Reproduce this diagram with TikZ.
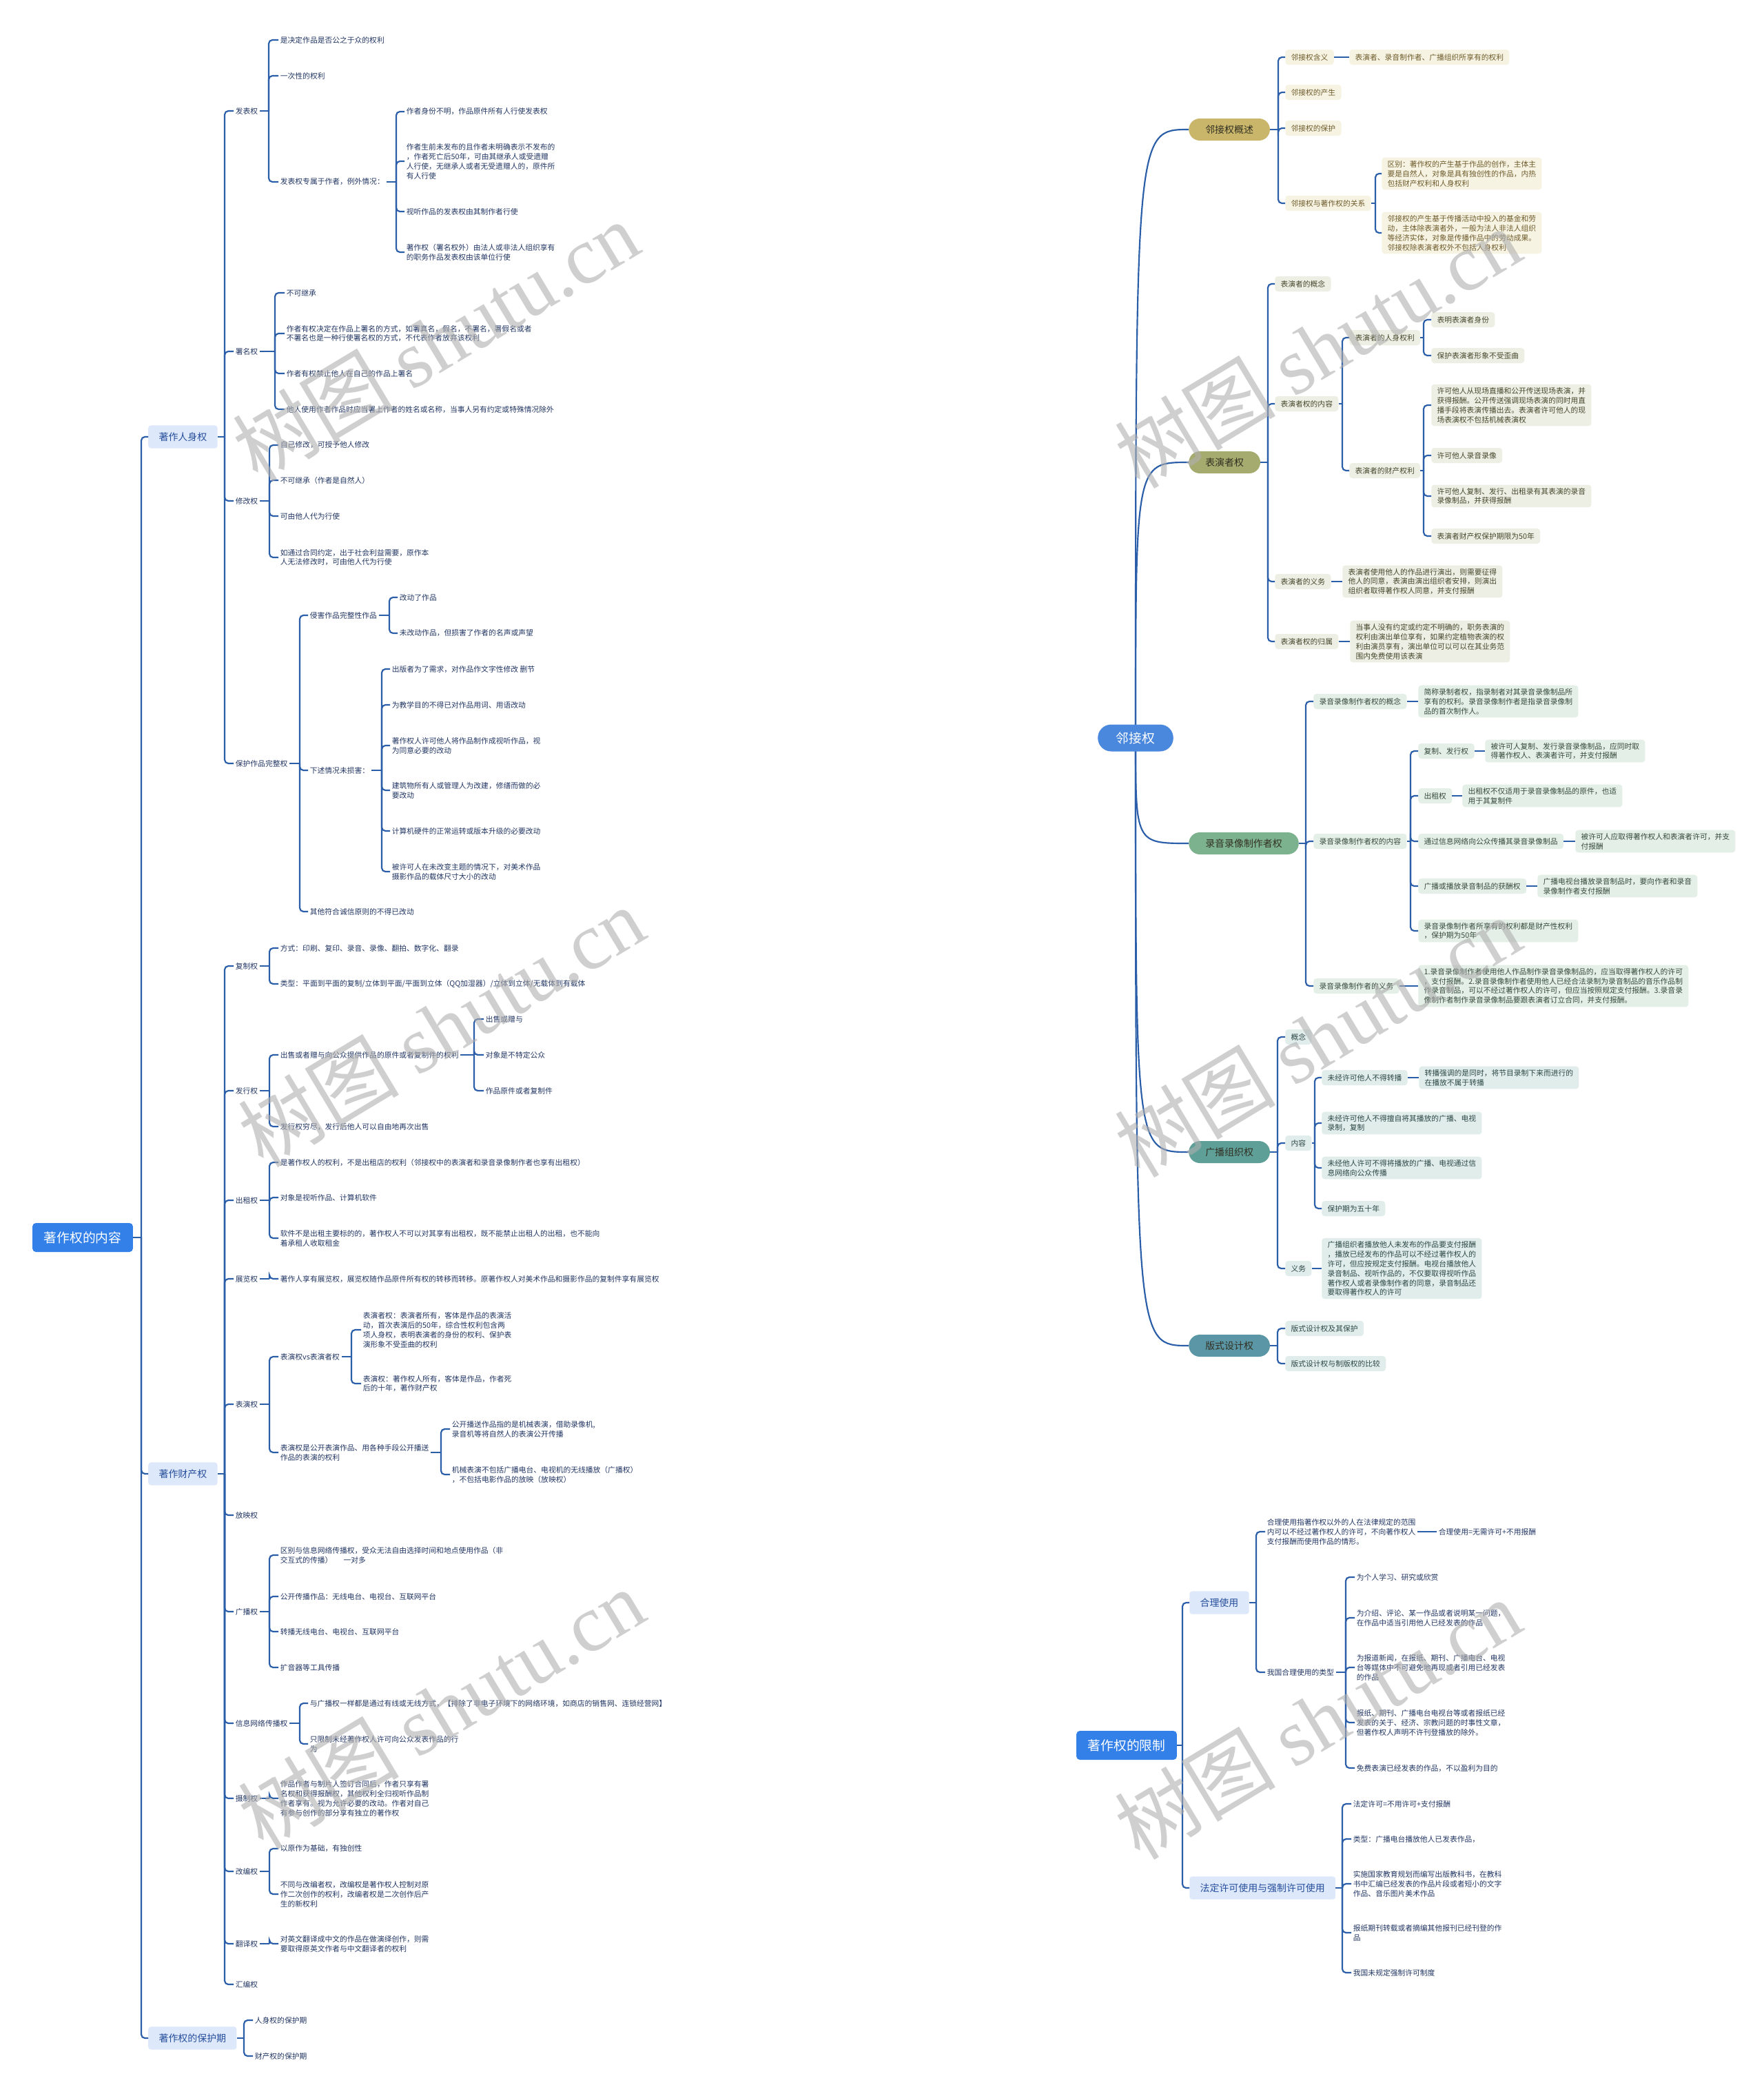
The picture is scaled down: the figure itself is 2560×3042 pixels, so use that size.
\documentclass[tikz,border=0pt]{standalone}
\usepackage{fontspec}
\setmainfont{Noto Sans CJK SC}
\newfontfamily\wmlatin{Liberation Serif}
\pgfdeclarelayer{background}
\pgfsetlayers{background,main}

\definecolor{lineblue}{RGB}{43,94,168}
\definecolor{txtblue}{RGB}{35,55,100}
\definecolor{rootblue}{RGB}{50,128,232}
\definecolor{midfill}{RGB}{222,232,251}
\definecolor{midtext}{RGB}{37,78,155}
\definecolor{jblue}{RGB}{74,136,222}
\definecolor{gold}{RGB}{201,182,106}
\definecolor{goldbg}{RGB}{247,243,226}
\definecolor{goldtxt}{RGB}{110,92,45}
\definecolor{olive}{RGB}{165,171,110}
\definecolor{olivebg}{RGB}{238,239,228}
\definecolor{olivetxt}{RGB}{70,72,45}
\definecolor{sage}{RGB}{125,178,142}
\definecolor{sagebg}{RGB}{228,239,231}
\definecolor{sagetxt}{RGB}{55,75,60}
\definecolor{teal}{RGB}{94,160,152}
\definecolor{tealbg}{RGB}{224,237,235}
\definecolor{tealtxt}{RGB}{45,72,70}
\definecolor{steel}{RGB}{90,150,165}
\definecolor{pilltxt}{RGB}{50,48,35}
\definecolor{wmgray}{RGB}{175,175,175}

% vertical fork from a parent to its children
\newcommand{\forkto}[3]{%
  \coordinate (fkv) at (#2,0);
  \draw[conn] (#1.east) -- (#1.east -| fkv);
  \foreach \kid in {#3}{\draw[conn, rounded corners=1.6mm] (#1.east -| fkv) |- (\kid.west);}
}

\begin{document}
\begin{tikzpicture}[
x=0.3mm, y=-0.3mm,
conn/.style={draw=lineblue, line width=0.65mm},
lf/.style={anchor=west, inner xsep=0.8mm, inner ysep=0.6mm, align=left, text=txtblue, font=\fontsize{9.2}{11.9}\selectfont},
midb/.style={anchor=west, fill=midfill, text=midtext, rounded corners=1.2mm, inner xsep=4.6mm, minimum height=10mm, font=\fontsize{11.9}{14}\selectfont},
rootb/.style={fill=rootblue, text=white, rounded corners=1.5mm, inner xsep=5mm, minimum height=12.6mm, font=\fontsize{16}{19}\selectfont},
jrootb/.style={fill=jblue, text=white, rounded corners=5.8mm, inner xsep=8mm, minimum height=11.7mm, font=\fontsize{16}{19}\selectfont},
pill/.style={anchor=west, rounded corners=4.8mm, inner xsep=7.2mm, minimum height=9.6mm, text=pilltxt, font=\fontsize{11.9}{14}\selectfont},
rb/.style={anchor=west, rounded corners=1.3mm, inner xsep=2.5mm, inner ysep=1.3mm, minimum height=6.6mm, align=left, font=\fontsize{9.2}{11.9}\selectfont},
wmark/.style={rotate=31, text=wmgray, opacity=0.6, font=\fontsize{100}{100}\selectfont}
]
\useasboundingbox (0,0) rectangle (2560,3042);
\begin{pgfonlayer}{background}
\fill[white] (0,0) rectangle (2560,3042);
\end{pgfonlayer}

%% 著作权的内容
\node[rootb] (zzq) at (120,1796) {著作权的内容};
\node[midb] (rsq) at (215,634) {著作人身权};
\node[midb] (ccq) at (215,2139) {著作财产权};
\node[midb] (bhqx) at (215,2958) {著作权的保护期};
\forkto{zzq}{205}{rsq,ccq,bhqx}

\node[lf] (fbq) at (339,161) {发表权};
\node[lf] (smq) at (339,510) {署名权};
\node[lf] (xgq) at (339,727) {修改权};
\node[lf] (wzq) at (339,1108) {保护作品完整权};
\forkto{rsq}{326}{fbq,smq,xgq,wzq}

\node[lf] (fbq1) at (404,58) {是决定作品是否公之于众的权利};
\node[lf] (fbq2) at (404,110) {一次性的权利};
\node[lf] (fbq3) at (404,264) {发表权专属于作者，例外情况：};
\forkto{fbq}{390}{fbq1,fbq2,fbq3}
\node[lf] (fbq31) at (587,162) {作者身份不明，作品原件所有人行使发表权};
\node[lf] (fbq32) at (587,234) {作者生前未发布的且作者未明确表示不发布的\\，作者死亡后50年，可由其继承人或受遗赠\\人行使，无继承人或者无受遗赠人的，原件所\\有人行使};
\node[lf] (fbq33) at (587,307) {视听作品的发表权由其制作者行使};
\node[lf] (fbq34) at (587,366) {著作权（署名权外）由法人或非法人组织享有\\的职务作品发表权由该单位行使};
\forkto{fbq3}{575}{fbq31,fbq32,fbq33,fbq34}

\node[lf] (smq1) at (413,425) {不可继承};
\node[lf] (smq2) at (413,484) {作者有权决定在作品上署名的方式，如署真名，假名，不署名，署假名或者\\不署名也是一种行使署名权的方式，不代表作者放弃该权利};
\node[lf] (smq3) at (413,542) {作者有权禁止他人在自己的作品上署名};
\node[lf] (smq4) at (413,594) {他人使用作者作品时应当署上作者的姓名或名称，当事人另有约定或特殊情况除外};
\forkto{smq}{399}{smq1,smq2,smq3,smq4}

\node[lf] (xgq1) at (404,646) {自己修改，可授予他人修改};
\node[lf] (xgq2) at (404,697) {不可继承（作者是自然人）};
\node[lf] (xgq3) at (404,749) {可由他人代为行使};
\node[lf] (xgq4) at (404,809) {如通过合同约定，出于社会利益需要，原作本\\人无法修改时，可由他人代为行使};
\forkto{xgq}{391}{xgq1,xgq2,xgq3,xgq4}

\node[lf] (wzq1) at (447,893) {侵害作品完整性作品};
\node[lf] (wzq2) at (447,1118) {下述情况未损害：};
\node[lf] (wzq3) at (447,1323) {其他符合诚信原则的不得已改动};
\forkto{wzq}{435}{wzq1,wzq2,wzq3}
\node[lf] (wzq11) at (577,867) {改动了作品};
\node[lf] (wzq12) at (577,919) {未改动作品，但损害了作者的名声或声望};
\forkto{wzq1}{565}{wzq11,wzq12}
\node[lf] (wzq21) at (566,971) {出版者为了需求，对作品作文字性修改 删节};
\node[lf] (wzq22) at (566,1023) {为教学目的不得已对作品用词、用语改动};
\node[lf] (wzq23) at (566,1082) {著作权人许可他人将作品制作成视听作品，视\\为同意必要的改动};
\node[lf] (wzq24) at (566,1147) {建筑物所有人或管理人为改建，修缮而做的必\\要改动};
\node[lf] (wzq25) at (566,1206) {计算机硬件的正常运转或版本升级的必要改动};
\node[lf] (wzq26) at (566,1265) {被许可人在未改变主题的情况下，对美术作品\\摄影作品的载体尺寸大小的改动};
\forkto{wzq2}{554}{wzq21,wzq22,wzq23,wzq24,wzq25,wzq26}

\node[lf] (fzq) at (339,1402) {复制权};
\node[lf] (fxq) at (339,1583) {发行权};
\node[lf] (czq) at (339,1742) {出租权};
\node[lf] (zlq) at (339,1856) {展览权};
\node[lf] (byq) at (339,2038) {表演权};
\node[lf] (fyq) at (339,2199) {放映权};
\node[lf] (gbq) at (339,2339) {广播权};
\node[lf] (xxq) at (339,2501) {信息网络传播权};
\node[lf] (szq) at (339,2610) {摄制权};
\node[lf] (gbjq) at (339,2716) {改编权};
\node[lf] (fanyq) at (339,2821) {翻译权};
\node[lf] (hbq) at (339,2880) {汇编权};
\forkto{ccq}{326}{fzq,fxq,czq,zlq,byq,fyq,gbq,xxq,szq,gbjq,fanyq,hbq}

\node[lf] (fzq1) at (404,1376) {方式：印刷、复印、录音、录像、翻拍、数字化、翻录};
\node[lf] (fzq2) at (404,1428) {类型：平面到平面的复制/立体到平面/平面到立体（QQ加湿器）/立体到立体/无载体到有载体};
\forkto{fzq}{391}{fzq1,fzq2}

\node[lf] (fxq1) at (404,1531) {出售或者赠与向公众提供作品的原件或者复制件的权利};
\node[lf] (fxq2) at (404,1635) {发行权穷尽，发行后他人可以自由地再次出售};
\forkto{fxq}{391}{fxq1,fxq2}
\node[lf] (fxq11) at (702,1479) {出售或赠与};
\node[lf] (fxq12) at (702,1531) {对象是不特定公众};
\node[lf] (fxq13) at (702,1583) {作品原件或者复制件};
\forkto{fxq1}{688}{fxq11,fxq12,fxq13}

\node[lf] (czq1) at (404,1687) {是著作权人的权利，不是出租店的权利（邻接权中的表演者和录音录像制作者也享有出租权）};
\node[lf] (czq2) at (404,1738) {对象是视听作品、计算机软件};
\node[lf] (czq3) at (404,1797) {软件不是出租主要标的的，著作权人不可以对其享有出租权，既不能禁止出租人的出租，也不能向\\着承租人收取租金};
\forkto{czq}{391}{czq1,czq2,czq3}

\node[lf] (zlq1) at (404,1856) {著作人享有展览权，展览权随作品原件所有权的转移而转移。原著作权人对美术作品和摄影作品的复制件享有展览权};
\forkto{zlq}{391}{zlq1}

\node[lf] (byq1) at (404,1969) {表演权vs表演者权};
\node[lf] (byq2) at (404,2108) {表演权是公开表演作品、用各种手段公开播送\\作品的表演的权利};
\forkto{byq}{391}{byq1,byq2}
\node[lf] (byq11) at (524,1930) {表演者权：表演者所有，客体是作品的表演活\\动，首次表演后的50年，综合性权利包含两\\项人身权，表明表演者的身份的权利、保护表\\演形象不受歪曲的权利};
\node[lf] (byq12) at (524,2008) {表演权：著作权人所有，客体是作品，作者死\\后的十年，著作财产权};
\forkto{byq1}{510}{byq11,byq12}
\node[lf] (byq21) at (653,2074) {公开播送作品指的是机械表演，借助录像机,\\录音机等将自然人的表演公开传播};
\node[lf] (byq22) at (653,2140) {机械表演不包括广播电台、电视机的无线播放（广播权）\\，不包括电影作品的放映（放映权）};
\forkto{byq2}{640}{byq21,byq22}

\node[lf] (gbq1) at (404,2257) {区别与信息网络传播权，受众无法自由选择时间和地点使用作品（非\\交互式的传播）\hspace{1.5em}一对多};
\node[lf] (gbq2) at (404,2317) {公开传播作品：无线电台、电视台、互联网平台};
\node[lf] (gbq3) at (404,2368) {转播无线电台、电视台、互联网平台};
\node[lf] (gbq4) at (404,2420) {扩音器等工具传播};
\forkto{gbq}{391}{gbq1,gbq2,gbq3,gbq4}

\node[lf] (xxq1) at (447,2472) {与广播权一样都是通过有线或无线方式，【排除了非电子环境下的网络环境，如商店的销售网、连锁经营网】};
\node[lf] (xxq2) at (447,2531) {只限制未经著作权人许可向公众发表作品的行\\为};
\forkto{xxq}{435}{xxq1,xxq2}

\node[lf] (szq1) at (404,2610) {作品作者与制片人签订合同后，作者只享有署\\名权和获得报酬权，其他权利全归视听作品制\\作者享有。视为允许必要的改动。作者对自己\\有参与创作的部分享有独立的著作权};
\forkto{szq}{391}{szq1}

\node[lf] (gbjq1) at (404,2683) {以原作为基础，有独创性};
\node[lf] (gbjq2) at (404,2749) {不同与改编者权，改编权是著作权人控制对原\\作二次创作的权利，改编者权是二次创作后产\\生的新权利};
\forkto{gbjq}{391}{gbjq1,gbjq2}

\node[lf] (fanyq1) at (404,2821) {对英文翻译成中文的作品在做演绎创作，则需\\要取得原英文作者与中文翻译者的权利};
\forkto{fanyq}{391}{fanyq1}

\node[lf] (bhqx1) at (367,2932) {人身权的保护期};
\node[lf] (bhqx2) at (367,2984) {财产权的保护期};
\forkto{bhqx}{354}{bhqx1,bhqx2}

%% 邻接权
\node[jrootb] (ljq) at (1648,1071) {邻接权};
\node[pill, fill=gold] (gs) at (1725,188) {邻接权概述};
\node[pill, fill=olive] (byz) at (1725,671) {表演者权};
\node[pill, fill=sage] (lyz) at (1725,1224) {录音录像制作者权};
\node[pill, fill=teal] (gbz) at (1725,1672) {广播组织权};
\node[pill, fill=steel] (bsz) at (1725,1953) {版式设计权};
\begin{pgfonlayer}{background}
\foreach \kid in {gs,byz,lyz,gbz,bsz}
  \draw[conn] (ljq.center) .. controls (ljq.center |- \kid.west) .. (\kid.west);
\end{pgfonlayer}

\begin{scope}[every node/.append style={fill=goldbg, text=goldtxt}]
\node[rb] (gs1) at (1865,83) {邻接权含义};
\node[rb] (gs2) at (1865,134) {邻接权的产生};
\node[rb] (gs3) at (1865,186) {邻接权的保护};
\node[rb] (gs4) at (1865,295) {邻接权与著作权的关系};
\node[rb] (gs11) at (1958,83) {表演者、录音制作者、广播组织所享有的权利};
\node[rb] (gs41) at (2005,252) {区别：著作权的产生基于作品的创作，主体主\\要是自然人，对象是具有独创性的作品，内热\\包括财产权利和人身权利};
\node[rb] (gs42) at (2005,338) {邻接权的产生基于传播活动中投入的基金和劳\\动，主体除表演者外，一般为法人非法人组织\\等经济实体，对象是传播作品中的劳动成果。\\邻接权除表演者权外不包括人身权利};
\end{scope}
\forkto{gs}{1855}{gs1,gs2,gs3,gs4}
\draw[conn] (gs1) -- (gs11);
\forkto{gs4}{1996}{gs41,gs42}

\begin{scope}[every node/.append style={fill=olivebg, text=olivetxt}]
\node[rb] (byz1) at (1850,412) {表演者的概念};
\node[rb] (byz2) at (1850,586) {表演者权的内容};
\node[rb] (byz3) at (1850,844) {表演者的义务};
\node[rb] (byz4) at (1850,931) {表演者权的归属};
\node[rb] (byz21) at (1958,490) {表演者的人身权利};
\node[rb] (byz22) at (1958,683) {表演者的财产权利};
\node[rb] (byz211) at (2077,464) {表明表演者身份};
\node[rb] (byz212) at (2077,516) {保护表演者形象不受歪曲};
\node[rb] (byz221) at (2077,588) {许可他人从现场直播和公开传送现场表演，并\\获得报酬。公开传送强调现场表演的同时用直\\播手段将表演传播出去。表演者许可他人的现\\场表演权不包括机械表演权};
\node[rb] (byz222) at (2077,661) {许可他人录音录像};
\node[rb] (byz223) at (2077,720) {许可他人复制、发行、出租录有其表演的录音\\录像制品，并获得报酬};
\node[rb] (byz224) at (2077,778) {表演者财产权保护期限为50年};
\node[rb] (byz31) at (1948,844) {表演者使用他人的作品进行演出，则需要征得\\他人的同意，表演由演出组织者安排，则演出\\组织者取得著作权人同意，并支付报酬};
\node[rb] (byz41) at (1959,931) {当事人没有约定或约定不明确的，职务表演的\\权利由演出单位享有，如果约定植物表演的权\\利由演员享有，演出单位可以可以在其业务范\\围内免费使用该表演};
\end{scope}
\forkto{byz}{1840}{byz1,byz2,byz3,byz4}
\forkto{byz2}{1948}{byz21,byz22}
\forkto{byz21}{2066}{byz211,byz212}
\forkto{byz22}{2066}{byz221,byz222,byz223,byz224}
\draw[conn] (byz3) -- (byz31);
\draw[conn] (byz4) -- (byz41);

\begin{scope}[every node/.append style={fill=sagebg, text=sagetxt}]
\node[rb] (lyz1) at (1906,1018) {录音录像制作者权的概念};
\node[rb] (lyz2) at (1906,1221) {录音录像制作者权的内容};
\node[rb] (lyz3) at (1906,1431) {录音录像制作者的义务};
\node[rb] (lyz11) at (2058,1018) {简称录制者权，指录制者对其录音录像制品所\\享有的权利。录音录像制作者是指录音录像制\\品的首次制作人。};
\node[rb] (lyz21) at (2058,1090) {复制、发行权};
\node[rb] (lyz22) at (2058,1155) {出租权};
\node[rb] (lyz23) at (2058,1221) {通过信息网络向公众传播其录音录像制品};
\node[rb] (lyz24) at (2058,1286) {广播或播放录音制品的获酬权};
\node[rb] (lyz25) at (2058,1351) {录音录像制作者所享有的权利都是财产性权利\\，保护期为50年};
\node[rb] (lyz211) at (2155,1090) {被许可人复制、发行录音录像制品，应同时取\\得著作权人、表演者许可，并支付报酬};
\node[rb] (lyz221) at (2122,1155) {出租权不仅适用于录音录像制品的原件，也适\\用于其复制件};
\node[rb] (lyz231) at (2286,1221) {被许可人应取得著作权人和表演者许可，并支\\付报酬};
\node[rb] (lyz241) at (2231,1286) {广播电视台播放录音制品时，要向作者和录音\\录像制作者支付报酬};
\node[rb] (lyz31) at (2058,1431) {1.录音录像制作者使用他人作品制作录音录像制品的，应当取得著作权人的许可\\，支付报酬。2.录音录像制作者使用他人已经合法录制为录音制品的音乐作品制\\作录音制品，可以不经过著作权人的许可，但应当按照规定支付报酬。3.录音录\\像制作者制作录音录像制品要跟表演者订立合同，并支付报酬。};
\end{scope}
\forkto{lyz}{1895}{lyz1,lyz2,lyz3}
\draw[conn] (lyz1) -- (lyz11);
\forkto{lyz2}{2047}{lyz21,lyz22,lyz23,lyz24,lyz25}
\draw[conn] (lyz21) -- (lyz211);
\draw[conn] (lyz22) -- (lyz221);
\draw[conn] (lyz23) -- (lyz231);
\draw[conn] (lyz24) -- (lyz241);
\draw[conn] (lyz3) -- (lyz31);

\begin{scope}[every node/.append style={fill=tealbg, text=tealtxt}]
\node[rb] (gbz1) at (1865,1505) {概念};
\node[rb] (gbz2) at (1865,1659) {内容};
\node[rb] (gbz3) at (1865,1841) {义务};
\node[rb] (gbz21) at (1918,1564) {未经许可他人不得转播};
\node[rb] (gbz22) at (1918,1630) {未经许可他人不得擅自将其播放的广播、电视\\录制，复制};
\node[rb] (gbz23) at (1918,1695) {未经他人许可不得将播放的广播、电视通过信\\息网络向公众传播};
\node[rb] (gbz24) at (1918,1754) {保护期为五十年};
\node[rb] (gbz211) at (2059,1564) {转播强调的是同时，将节目录制下来而进行的\\在播放不属于转播};
\node[rb] (gbz31) at (1918,1841) {广播组织者播放他人未发布的作品要支付报酬\\，播放已经发布的作品可以不经过著作权人的\\许可，但应按规定支付报酬。电视台播放他人\\录音制品、视听作品的，不仅要取得视听作品\\著作权人或者录像制作者的同意，录音制品还\\要取得著作权人的许可};
\node[rb] (bsz1) at (1865,1928) {版式设计权及其保护};
\node[rb] (bsz2) at (1865,1979) {版式设计权与制版权的比较};
\end{scope}
\forkto{gbz}{1854}{gbz1,gbz2,gbz3}
\forkto{gbz2}{1908}{gbz21,gbz22,gbz23,gbz24}
\draw[conn] (gbz21) -- (gbz211);
\draw[conn] (gbz3) -- (gbz31);
\forkto{bsz}{1854}{bsz1,bsz2}

%% 著作权的限制
\node[rootb] (xz) at (1635,2533) {著作权的限制};
\node[midb] (hlsy) at (1726,2326) {合理使用};
\node[midb] (fdxk) at (1726,2740) {法定许可使用与强制许可使用};
\forkto{xz}{1716}{hlsy,fdxk}

\node[lf] (hlsy1) at (1836,2223) {合理使用指著作权以外的人在法律规定的范围\\内可以不经过著作权人的许可，不向著作权人\\支付报酬而使用作品的情形。};
\node[lf] (hlsy2) at (1836,2427) {我国合理使用的类型};
\forkto{hlsy}{1823}{hlsy1,hlsy2}
\node[lf] (hlsy11) at (2085,2223) {合理使用=无需许可+不用报酬};
\draw[conn] (hlsy1) -- (hlsy11);
\node[lf] (hlsy21) at (1966,2289) {为个人学习、研究或欣赏};
\node[lf] (hlsy22) at (1966,2348) {为介绍、评论、某一作品或者说明某一问题，\\在作品中适当引用他人已经发表的作品};
\node[lf] (hlsy23) at (1966,2420) {为报道新闻，在报纸、期刊、广播电台、电视\\台等媒体中不可避免地再现或者引用已经发表\\的作品};
\node[lf] (hlsy24) at (1966,2500) {报纸、期刊、广播电台电视台等或者报纸已经\\发表的关于、经济、宗教问题的时事性文章，\\但著作权人声明不许刊登播放的除外。};
\node[lf] (hlsy25) at (1966,2566) {免费表演已经发表的作品，不以盈利为目的};
\forkto{hlsy2}{1953}{hlsy21,hlsy22,hlsy23,hlsy24,hlsy25}

\node[lf] (fdxk1) at (1961,2618) {法定许可=不用许可+支付报酬};
\node[lf] (fdxk2) at (1961,2669) {类型：广播电台播放他人已发表作品，};
\node[lf] (fdxk3) at (1961,2734) {实施国家教育规划而编写出版教科书，在教科\\书中汇编已经发表的作品片段或者短小的文字\\作品、音乐图片美术作品};
\node[lf] (fdxk4) at (1961,2805) {报纸期刊转载或者摘编其他报刊已经刊登的作\\品};
\node[lf] (fdxk5) at (1961,2863) {我国未规定强制许可制度};
\forkto{fdxk}{1948}{fdxk1,fdxk2,fdxk3,fdxk4,fdxk5}

%% watermarks
\node[wmark] (wm1) at (632,495) {树图 {\wmlatin shutu.cn}};
\node[wmark] (wm2) at (640,1490) {树图 {\wmlatin shutu.cn}};
\node[wmark] (wm3) at (640,2480) {树图 {\wmlatin shutu.cn}};
\node[wmark] (wm4) at (1912,505) {树图 {\wmlatin shutu.cn}};
\node[wmark] (wm5) at (1912,1505) {树图 {\wmlatin shutu.cn}};
\node[wmark] (wm6) at (1912,2495) {树图 {\wmlatin shutu.cn}};

\end{tikzpicture}
\end{document}
